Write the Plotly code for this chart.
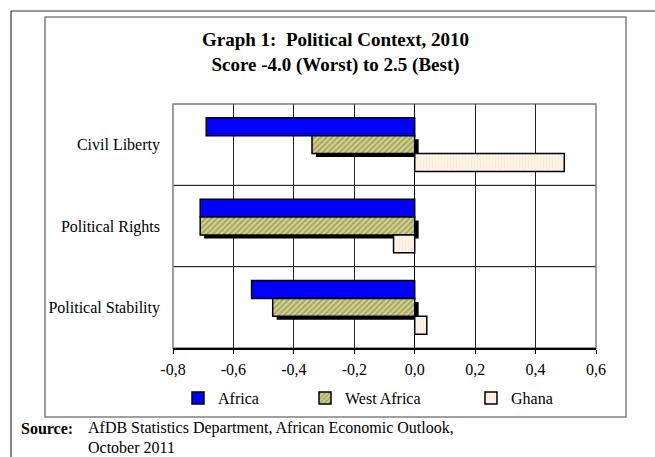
import plotly.graph_objects as go

categories = ["Civil Liberty", "Political Rights", "Political Stability"]
series_names = ["Africa", "West Africa", "Ghana"]
africa = [-0.69, -0.71, -0.54]
west_africa = [-0.34, -0.71, -0.47]
ghana = [0.495, -0.07, 0.04]
x_ticks = [-0.8, -0.6, -0.4, -0.2, 0.0, 0.2, 0.4, 0.6]
x_ticktext = ["-0,8", "-0,6", "-0,4", "-0,2", "0,0", "0,2", "0,4", "0,6"]

W, H = 655, 457
L, R, T, B = 173, 59, 104, 109
PW, PH = W - L - R, H - T - B

def px(x):
    return (x - L) / PW

def py(y):
    return 1 - (y - T) / PH

FONT = "Liberation Serif, Times New Roman, serif"
bw = 0.22

fig = go.Figure()
fig.add_trace(go.Bar(
    y=categories, x=west_africa, base=0.013, orientation="h",
    offset=-0.11 + 0.043, width=bw,
    marker=dict(color="black", line=dict(width=0)),
    showlegend=False, hoverinfo="skip"))
fig.add_trace(go.Bar(
    y=categories, x=africa, orientation="h", name=series_names[0],
    offset=-0.33, width=bw,
    marker=dict(color="#0000FF", line=dict(color="black", width=1.5)),
    legend="legend"))
fig.add_trace(go.Bar(
    y=categories, x=west_africa, orientation="h", name=series_names[1],
    offset=-0.11, width=bw,
    marker=dict(color="#d6d6a8", line=dict(color="black", width=1.5),
                pattern=dict(shape="/", fgcolor="#7a7a08", bgcolor="#d6d6a8",
                             size=4, solidity=0.55)),
    legend="legend2"))
fig.add_trace(go.Bar(
    y=categories, x=ghana, orientation="h", name=series_names[2],
    offset=0.11, width=bw,
    marker=dict(color="#FFF4E8", line=dict(color="black", width=1.5),
                pattern=dict(shape="|", fgcolor="#FFDDBB", bgcolor="#FFF6EC",
                             size=3, solidity=0.4)),
    legend="legend3"))

shapes = []
# category separators
for i in range(len(categories) - 1):
    shapes.append(dict(type="line", xref="paper", yref="y", x0=0, x1=1,
                       y0=i + 0.5, y1=i + 0.5, line=dict(color="black", width=1),
                       layer="below"))
# plot area border
shapes.append(dict(type="rect", xref="paper", yref="paper", x0=0, x1=1, y0=0, y1=1,
                   line=dict(color="#808080", width=1.5), layer="below"))
# inner chart frame
shapes.append(dict(type="rect", xref="paper", yref="paper",
                   x0=px(45), x1=px(626), y0=py(417), y1=py(17),
                   line=dict(color="#808080", width=1.5), layer="below"))
# outer page frame
shapes.append(dict(type="line", xref="paper", yref="paper",
                   x0=px(11), x1=px(11), y0=py(11), y1=py(H + 5),
                   line=dict(color="#333333", width=1.2)))
shapes.append(dict(type="line", xref="paper", yref="paper",
                   x0=px(11), x1=px(W + 5), y0=py(11), y1=py(11),
                   line=dict(color="#333333", width=1.2)))

annotations = [
    dict(text="<b>Graph 1:  Political Context, 2010</b><br><b>Score -4.0 (Worst) to 2.5 (Best)</b>",
         xref="paper", yref="paper", x=px(335), y=py(53), xanchor="center", yanchor="middle",
         showarrow=False, font=dict(family=FONT, size=19, color="black")),
    dict(text="<b>Source:</b>", xref="paper", yref="paper", x=px(19), y=py(428),
         xanchor="left", yanchor="middle", showarrow=False,
         font=dict(family=FONT, size=16, color="black")),
    dict(text="AfDB Statistics Department, African Economic Outlook,", xref="paper", yref="paper",
         x=px(86), y=py(428), xanchor="left", yanchor="middle", showarrow=False,
         font=dict(family=FONT, size=16, color="black")),
    dict(text="October 2011", xref="paper", yref="paper",
         x=px(86), y=py(447), xanchor="left", yanchor="middle", showarrow=False,
         font=dict(family=FONT, size=16, color="black")),
]

leg_common = dict(orientation="h", xref="container", yref="container",
                  yanchor="middle", xanchor="left", bgcolor="rgba(0,0,0,0)",
                  font=dict(family=FONT, size=16, color="black"),
                  itemwidth=30, tracegroupgap=0)

fig.update_layout(
    width=W, height=H,
    margin=dict(l=L, r=R, t=T, b=B, autoexpand=False),
    paper_bgcolor="white", plot_bgcolor="white",
    barmode="overlay",
    showlegend=True,
    legend=dict(x=(197 - 19) / W, y=1 - 398 / H, **leg_common),
    legend2=dict(x=(324 - 19) / W, y=1 - 398 / H, **leg_common),
    legend3=dict(x=(490 - 19) / W, y=1 - 398 / H, **leg_common),
    xaxis=dict(range=[-0.8, 0.6], tickvals=x_ticks, ticktext=x_ticktext,
               automargin=False,
               showgrid=True, gridcolor="#222222", gridwidth=1,
               zeroline=True, zerolinecolor="black", zerolinewidth=1.2,
               showline=True, linecolor="black", linewidth=1.5,
               ticks="outside", ticklen=4, tickcolor="black",
               ticklabelstandoff=2,
               tickfont=dict(family=FONT, size=16, color="black")),
    yaxis=dict(autorange=False, range=[2.5, -0.5], type="category",
               categoryorder="array", categoryarray=categories,
               automargin=False,
               showgrid=False, zeroline=False, showline=False, ticks="",
               ticklabelstandoff=12,
               tickfont=dict(family=FONT, size=16, color="black")),
    shapes=shapes,
    annotations=annotations,
)

fig.write_html("out.html")
